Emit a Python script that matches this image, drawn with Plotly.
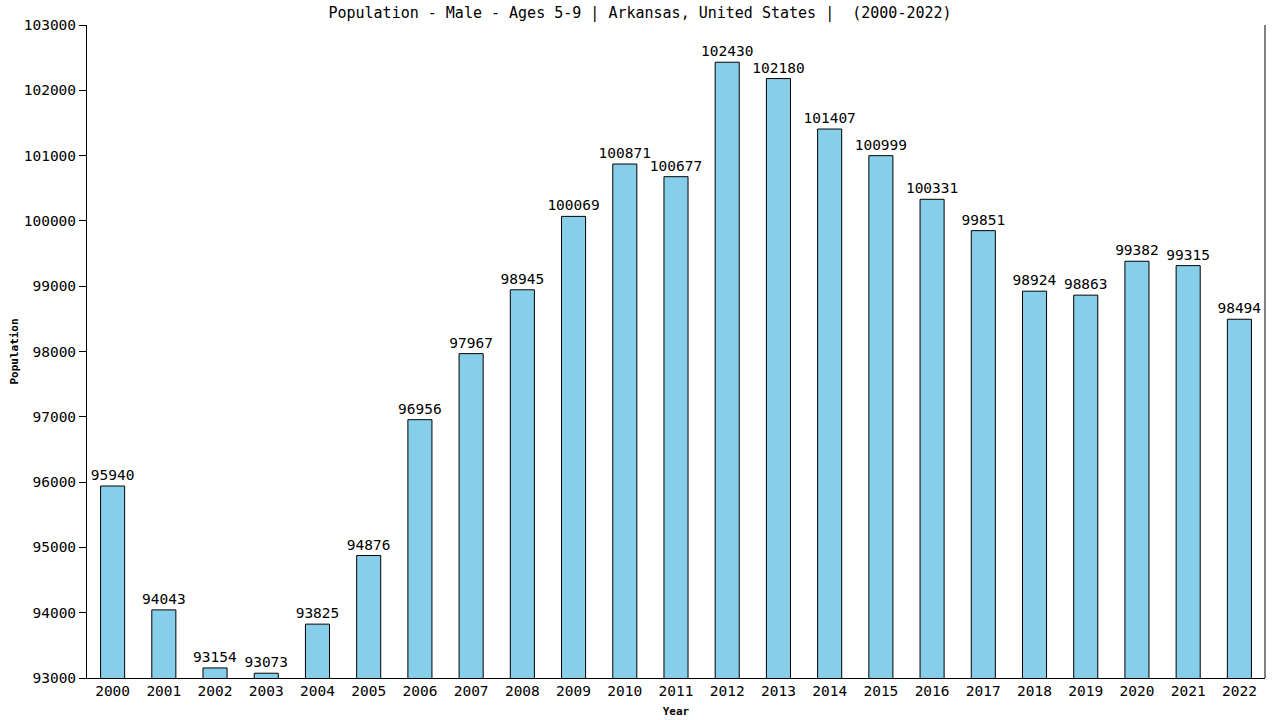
import plotly.graph_objects as go

years = [str(y) for y in range(2000, 2023)]
population = [95940, 94043, 93154, 93073, 93825, 94876, 96956, 97967, 98945, 100069,
              100871, 100677, 102430, 102180, 101407, 100999, 100331, 99851, 98924,
              98863, 99382, 99315, 98494]
y_ticks = list(range(93000, 103001, 1000))

FONT = "DejaVu Sans Mono"

fig = go.Figure()
fig.add_trace(go.Bar(
    x=years, y=population,
    marker=dict(color="#87CEEB", line=dict(color="black", width=1)),
    text=[str(v) for v in population], textposition="outside",
    textfont=dict(family=FONT, size=14.5, color="black"),
    constraintext="none",
    cliponaxis=False,
))

fig.update_layout(
    width=1280, height=720,
    margin=dict(l=87, r=15, t=25, b=42, autoexpand=False),
    paper_bgcolor="white", plot_bgcolor="white",
    bargap=0.53,
    showlegend=False,
    title=dict(text="Population - Male - Ages 5-9 | Arkansas, United States |  (2000-2022)",
               x=0.5, xref="container", xanchor="center", y=0.982, yref="container", yanchor="middle",
               font=dict(family=FONT, size=15, color="black"), automargin=False),
    font=dict(family=FONT, color="black"),
)
fig.update_xaxes(
    type="category", range=[-0.5, 22.5], automargin=False,
    showline=True, linecolor="black", linewidth=1, mirror=False,
    ticks="", tickfont=dict(family=FONT, size=14.5, color="black"),
    title=dict(text="<b>Year</b>", font=dict(family=FONT, size=11, color="black"), standoff=8),
    showgrid=False, zeroline=False,
)
fig.update_yaxes(
    range=[93000, 103000], tickvals=y_ticks, ticktext=[str(v) for v in y_ticks],
    automargin=False,
    showline=True, linecolor="black", linewidth=1,
    ticks="outside", ticklen=7, tickcolor="black",
    tickfont=dict(family=FONT, size=14.5, color="black"),
    title=dict(text="<b>Population</b>", font=dict(family=FONT, size=11, color="black"), standoff=2),
    showgrid=False, zeroline=False,
)
# right border line
fig.add_shape(type="line", xref="paper", yref="paper", x0=1, x1=1, y0=0, y1=1,
              line=dict(color="black", width=1))

fig.write_html("out.html", config={"displayModeBar": False},
               post_script="document.body.style.margin='0';document.body.style.overflow='hidden';")
